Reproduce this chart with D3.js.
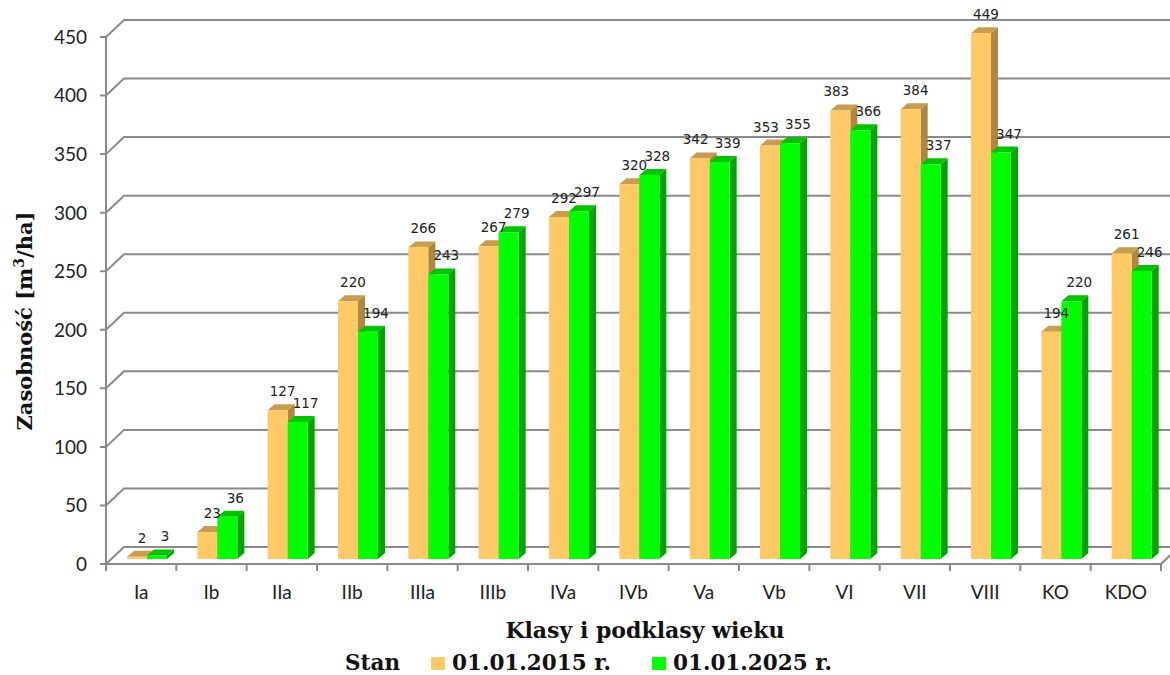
<!DOCTYPE html>
<html>
<head>
<meta charset="utf-8">
<script src="https://cdn.jsdelivr.net/npm/d3@7"></script>
<style>
  body { margin: 0; background: #fff; }
  svg { display: block; }
  .grid { fill: none; stroke: #8a8a8a; stroke-width: 2; }
  .tick-label { font-family: Lato, 'Open Sans', sans-serif; font-size: 19px; fill: #222; }
  .val { font-family: 'DejaVu Sans', sans-serif; font-size: 13.5px; fill: #222; }
  .title { font-family: 'DejaVu Serif', serif; font-weight: bold; fill: #111; }
</style>
</head>
<body>
<svg id="chart" width="1170" height="675"></svg>
<script>
// data
var categories = ['Ia', 'Ib', 'IIa', 'IIb', 'IIIa', 'IIIb', 'IVa', 'IVb', 'Va', 'Vb', 'VI', 'VII', 'VIII', 'KO', 'KDO'];
var stan2015 = [2, 23, 127, 220, 266, 267, 292, 320, 342, 353, 383, 384, 449, 194, 261];
var stan2025 = [3, 36, 117, 194, 243, 279, 297, 328, 339, 355, 366, 337, 347, 220, 246];
var yTicks = [0, 50, 100, 150, 200, 250, 300, 350, 400, 450];
var seriesNames = ['01.01.2015 r.', '01.01.2025 r.'];

var svg = d3.select('#chart');

// 3d offsets
var wallDx = 18, wallDy = -17;
var barDx = 7, barDy = -6;

var x = d3.scaleBand().domain(categories).range([106, 1161]);
var y = d3.scaleLinear().domain([0, 450]).range([564, 37]);
var yBar = d3.scaleLinear().domain([0, 450]).range([559, 32]);

var colors = [
  { front: '#ffc966', top: '#c99c4e', side: '#b0873f' },
  { front: '#00ff00', top: '#00c400', side: '#00a300' }
];

// back wall gridlines
var grid = svg.append('g');
grid.selectAll('path.grid')
  .data(yTicks).enter()
  .append('path').attr('class', 'grid')
  .attr('d', d => `M100,${y(d)} L106,${y(d)} L${106 + wallDx},${y(d) + wallDy} L1200,${y(d) + wallDy}`);

// front axis + floor edge
grid.append('path').attr('class', 'grid')
  .attr('d', `M106,${y(450)} L106,${y(0)} L1161,${y(0)} L${1161 + wallDx},${y(0) + wallDy}`);
grid.selectAll('line.xtick')
  .data(d3.range(categories.length + 1)).enter()
  .append('line').attr('class', 'grid')
  .attr('x1', i => 106 + i * x.step()).attr('x2', i => 106 + i * x.step())
  .attr('y1', y(0)).attr('y2', y(0) + 7);

// y labels
svg.append('g').selectAll('text')
  .data(yTicks).enter()
  .append('text').attr('class', 'tick-label')
  .attr('x', 87).attr('y', d => y(d)).attr('dy', '0.36em')
  .attr('text-anchor', 'end')
  .text(d => d);

// x labels
svg.append('g').selectAll('text')
  .data(categories).enter()
  .append('text').attr('class', 'tick-label')
  .attr('x', d => x(d) + x.bandwidth() / 2).attr('y', 599)
  .attr('text-anchor', 'middle')
  .text(d => d);

// bars
var barW = 20, barOff = 21;
var bars = [];
categories.forEach((c, i) => {
  [stan2015[i], stan2025[i]].forEach((v, s) => {
    bars.push({ cat: c, s: s, v: v, other: s ? stan2015[i] : stan2025[i] });
  });
});

var barG = svg.append('g').selectAll('g.bar')
  .data(bars).enter()
  .append('g').attr('class', 'bar');

function bx(d) { return x(d.cat) + barOff + d.s * barW; }

barG.append('path')
  .attr('fill', d => colors[d.s].top)
  .attr('d', d => {
    var x0 = bx(d), x1 = x0 + barW, yt = yBar(d.v);
    return `M${x0},${yt} L${x0 + barDx},${yt + barDy} L${x1 + barDx},${yt + barDy} L${x1},${yt} Z`;
  });
barG.append('path')
  .attr('fill', d => colors[d.s].side)
  .attr('d', d => {
    var x1 = bx(d) + barW, yt = yBar(d.v), yb = yBar(0);
    return `M${x1},${yt} L${x1 + barDx},${yt + barDy} L${x1 + barDx},${yb + barDy} L${x1},${yb} Z`;
  });
barG.append('rect')
  .attr('fill', d => colors[d.s].front)
  .attr('x', d => bx(d)).attr('y', d => yBar(d.v))
  .attr('width', barW).attr('height', d => yBar(0) - yBar(d.v));

// value labels
svg.append('g').selectAll('text')
  .data(bars).enter()
  .append('text').attr('class', 'val')
  .attr('x', d => {
    var c = bx(d) + barW / 2;
    if (d.s) return c + 8;
    return Math.abs(d.v - d.other) < 20 && d.v > 330 ? c - 4 : c + 5;
  })
  .attr('y', d => yBar(d.v) - 14)
  .attr('text-anchor', 'middle')
  .text(d => d.v);

// axis titles
svg.append('text').attr('class', 'title')
  .attr('font-size', 22)
  .attr('x', 645).attr('y', 638)
  .attr('text-anchor', 'middle')
  .text('Klasy i podklasy wieku');

var yt = svg.append('text').attr('class', 'title')
  .attr('font-size', 21)
  .attr('transform', 'translate(32,321) rotate(-90)')
  .attr('text-anchor', 'middle');
yt.append('tspan').text('Zasobność [m');
yt.append('tspan').attr('font-size', 14).attr('dy', -8).text('3');
yt.append('tspan').attr('dy', 8).text('/ha]');

// legend
var legend = svg.append('g');
legend.append('text').attr('class', 'title')
  .attr('font-size', 21.5)
  .attr('x', 345).attr('y', 670)
  .text('Stan');
var legX = [431, 652];
var item = legend.selectAll('g.item')
  .data(seriesNames).enter()
  .append('g').attr('class', 'item');
item.append('rect')
  .attr('x', (d, i) => legX[i]).attr('y', 657)
  .attr('width', 14).attr('height', 13)
  .attr('fill', (d, i) => colors[i].front);
item.append('text').attr('class', 'title')
  .attr('font-size', 21.5)
  .attr('x', (d, i) => legX[i] + 21).attr('y', 670)
  .text(d => d);
</script>
</body>
</html>
